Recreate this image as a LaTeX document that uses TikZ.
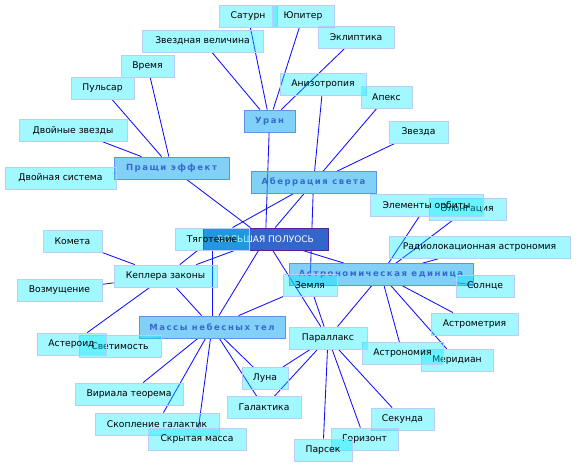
\documentclass[tikz,border=0pt]{standalone}
\usepackage{fontspec}
\setmainfont{DejaVu Sans}
\newfontfamily\hubfnt{DejaVu Sans}[LetterSpace=18]
\usetikzlibrary{backgrounds}
\definecolor{leafcyan}{RGB}{0,235,255}
\definecolor{leafborder}{RGB}{185,205,250}
\definecolor{hubfill}{RGB}{43,177,243}
\definecolor{hubborder}{RGB}{90,150,225}
\definecolor{hubtext}{RGB}{55,105,205}
\definecolor{mainfill}{RGB}{51,102,204}
\definecolor{mainborder}{RGB}{85,35,150}
\definecolor{linkblue}{RGB}{15,15,255}
\tikzset{
  leaf/.style={draw=leafborder, line width=0.8pt, fill=leafcyan, fill opacity=0.37,
    text opacity=1, minimum height=22pt, inner sep=0pt, font=\fontsize{9.2}{10}\selectfont, text=black},
  hub/.style={draw=hubborder, line width=0.8pt, fill=hubfill, fill opacity=0.6,
    text opacity=1, minimum height=22pt, inner sep=0pt, font=\hubfnt\bfseries\fontsize{8.5}{10}\selectfont, text=hubtext},
  mainnode/.style={draw=mainborder, line width=0.8pt, fill=mainfill,
    minimum height=22pt, inner sep=0pt, font=\fontsize{9}{10}\selectfont, text=white},
  link/.style={draw=linkblue, line width=0.85pt}
}
\begin{document}
\begin{tikzpicture}[x=1pt,y=-1pt]
\useasboundingbox (0,0) rectangle (576,467);
% hubs
\node[hub, minimum width=115pt] (prash) at (171.5,168) {Пращи эффект};
\node[hub, minimum width=51pt] (uran) at (269.5,121) {Уран};
\node[hub, minimum width=125pt] (aber) at (313.5,182.5) {Аберрация света};
\node[hub, minimum width=184pt] (ae) at (381,274.5) {Астрономическая единица};
\node[hub, minimum width=146pt] (mass) at (212,327) {Массы небесных тел};
\node[mainnode, minimum width=125pt] (main) at (265.5,239) {БОЛЬШАЯ ПОЛУОСЬ};
% leaves
\node[leaf, minimum width=58pt] (sat) at (248,16) {Сатурн};
\node[leaf, minimum width=62pt] (jup) at (303,16) {Юпитер};
\node[leaf, minimum width=121pt] (zvv) at (202.5,41) {Звездная величина};
\node[leaf, minimum width=76pt] (ekl) at (356,37.5) {Эклиптика};
\node[leaf, minimum width=53pt] (vrem) at (147.5,66) {Время};
\node[leaf, minimum width=63pt] (puls) at (102.5,88.5) {Пульсар};
\node[leaf, minimum width=108pt] (dvz) at (73,130.5) {Двойные звезды};
\node[leaf, minimum width=111pt] (dvs) at (60.5,178) {Двойная система};
\node[leaf, minimum width=86pt] (aniz) at (323,84) {Анизотропия};
\node[leaf, minimum width=51pt] (apex) at (386.5,97) {Апекс};
\node[leaf, minimum width=59pt] (zvez) at (418.5,132) {Звезда};
\node[leaf, minimum width=74pt] (tyag) at (212,239) {Тяготение};
\node[leaf, minimum width=77pt] (elong) at (467.5,209) {Элонгация};
\node[leaf, minimum width=113pt] (elorb) at (426.5,205.5) {Элементы орбиты};
\node[leaf, minimum width=181pt] (radio) at (479.5,247.5) {Радиолокационная астрономия};
\node[leaf, minimum width=58pt] (sun) at (485,286) {Солнце};
\node[leaf, minimum width=87pt] (astmet) at (474.5,324) {Астрометрия};
\node[leaf, minimum width=72pt] (merid) at (457,360.5) {Меридиан};
\node[leaf, minimum width=81pt] (astron) at (402.5,353.5) {Астрономия};
\node[leaf, minimum width=54pt] (zem) at (310,285) {Земля};
\node[leaf, minimum width=78pt] (paral) at (328,338) {Параллакс};
\node[leaf, minimum width=46pt] (luna) at (265,378.5) {Луна};
\node[leaf, minimum width=74pt] (galak) at (264,407.5) {Галактика};
\node[leaf, minimum width=63pt] (sek) at (402.5,419) {Секунда};
\node[leaf, minimum width=67pt] (gor) at (364.5,439) {Горизонт};
\node[leaf, minimum width=58pt] (pars) at (323,450) {Парсек};
\node[leaf, minimum width=103pt] (kepl) at (165.5,276) {Кеплера законы};
\node[leaf, minimum width=59pt] (komet) at (72.5,241.5) {Комета};
\node[leaf, minimum width=85pt] (vozm) at (59.5,290) {Возмущение};
\node[leaf, minimum width=82pt] (svet) at (120,346.5) {Светимость};
\node[leaf, minimum width=69pt] (aster) at (71.5,344) {Астероид};
\node[leaf, minimum width=108pt] (viri) at (129,394) {Вириала теорема};
\node[leaf, minimum width=124pt] (skopl) at (157,424) {Скопление галактик};
\node[leaf, minimum width=98pt] (skryt) at (197,439) {Скрытая масса};
% connectors
\begin{scope}[on background layer]
\draw[link] (prash) -- (dvz);
\draw[link] (prash) -- (puls);
\draw[link] (prash) -- (vrem);
\draw[link] (prash) -- (dvs);
\draw[link] (prash) -- (main);
\draw[link] (uran) -- (zvv);
\draw[link] (uran) -- (sat);
\draw[link] (uran) -- (jup);
\draw[link] (uran) -- (ekl);
\draw[link] (uran) -- (main);
\draw[link] (aber) -- (aniz);
\draw[link] (aber) -- (apex);
\draw[link] (aber) -- (zvez);
\draw[link] (aber) -- (main);
\draw[link] (aber) -- (tyag);
\draw[link] (aber) -- (zem);
\draw[link] (main) -- (mass);
\draw[link] (main) -- (paral);
\draw[link] (main) -- (ae);
\draw[link] (main) -- (kepl);
\draw[link] (tyag) -- (mass);
\draw[link] (tyag) -- (kepl);
\draw[link] (kepl) -- (komet);
\draw[link] (kepl) -- (vozm);
\draw[link] (kepl) -- (aster);
\draw[link] (kepl) -- (mass);
\draw[link] (mass) -- (viri);
\draw[link] (mass) -- (skopl);
\draw[link] (mass) -- (skryt);
\draw[link] (mass) -- (luna);
\draw[link] (mass) -- (galak);
\draw[link] (mass) -- (zem);
\draw[link] (mass) -- (svet);
\draw[link] (ae) -- (elorb);
\draw[link] (ae) -- (elong);
\draw[link] (ae) -- (radio);
\draw[link] (ae) -- (sun);
\draw[link] (ae) -- (astmet);
\draw[link] (ae) -- (astron);
\draw[link] (ae) -- (merid);
\draw[link] (ae) -- (paral);
\draw[link] (zem) -- (paral);
\draw[link] (paral) -- (luna);
\draw[link] (paral) -- (galak);
\draw[link] (paral) -- (pars);
\draw[link] (paral) -- (gor);
\draw[link] (paral) -- (sek);
\end{scope}
\end{tikzpicture}
\end{document}
